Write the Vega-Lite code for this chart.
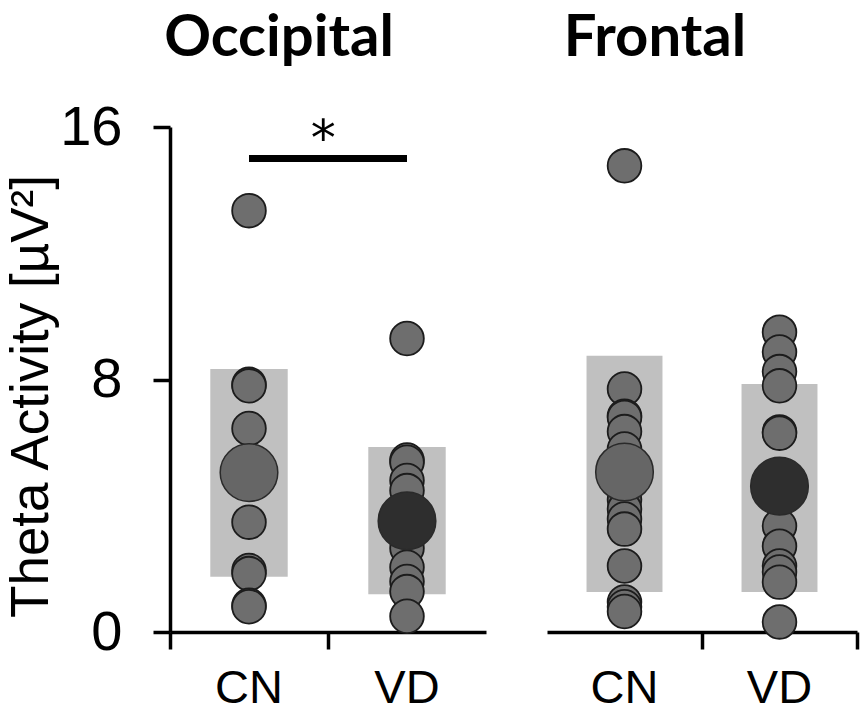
{
  "$schema": "https://vega.github.io/schema/vega-lite/v6.json",
  "background": "white",
  "padding": {"left": 5, "top": 10, "right": 5, "bottom": 5},
  "datasets": {
    "points": [
      {"region": "Occipital", "group": "CN", "value": 13.35},
      {"region": "Occipital", "group": "CN", "value": 7.85},
      {"region": "Occipital", "group": "CN", "value": 7.8},
      {"region": "Occipital", "group": "CN", "value": 6.45},
      {"region": "Occipital", "group": "CN", "value": 5.0},
      {"region": "Occipital", "group": "CN", "value": 3.48},
      {"region": "Occipital", "group": "CN", "value": 1.95},
      {"region": "Occipital", "group": "CN", "value": 1.85},
      {"region": "Occipital", "group": "CN", "value": 0.85},
      {"region": "Occipital", "group": "CN", "value": 0.8},
      {"region": "Occipital", "group": "VD", "value": 9.3},
      {"region": "Occipital", "group": "VD", "value": 5.45},
      {"region": "Occipital", "group": "VD", "value": 5.38},
      {"region": "Occipital", "group": "VD", "value": 4.8},
      {"region": "Occipital", "group": "VD", "value": 4.48},
      {"region": "Occipital", "group": "VD", "value": 3.6},
      {"region": "Occipital", "group": "VD", "value": 2.65},
      {"region": "Occipital", "group": "VD", "value": 2.05},
      {"region": "Occipital", "group": "VD", "value": 1.6},
      {"region": "Occipital", "group": "VD", "value": 1.28},
      {"region": "Occipital", "group": "VD", "value": 0.5},
      {"region": "Frontal", "group": "CN", "value": 14.77},
      {"region": "Frontal", "group": "CN", "value": 7.7},
      {"region": "Frontal", "group": "CN", "value": 6.84},
      {"region": "Frontal", "group": "CN", "value": 6.8},
      {"region": "Frontal", "group": "CN", "value": 6.35},
      {"region": "Frontal", "group": "CN", "value": 5.8},
      {"region": "Frontal", "group": "CN", "value": 4.2},
      {"region": "Frontal", "group": "CN", "value": 3.9},
      {"region": "Frontal", "group": "CN", "value": 3.58},
      {"region": "Frontal", "group": "CN", "value": 3.26},
      {"region": "Frontal", "group": "CN", "value": 2.09},
      {"region": "Frontal", "group": "CN", "value": 0.95},
      {"region": "Frontal", "group": "CN", "value": 0.8},
      {"region": "Frontal", "group": "CN", "value": 0.65},
      {"region": "Frontal", "group": "VD", "value": 9.5},
      {"region": "Frontal", "group": "VD", "value": 8.87},
      {"region": "Frontal", "group": "VD", "value": 8.25},
      {"region": "Frontal", "group": "VD", "value": 7.8},
      {"region": "Frontal", "group": "VD", "value": 6.34},
      {"region": "Frontal", "group": "VD", "value": 6.3},
      {"region": "Frontal", "group": "VD", "value": 3.36},
      {"region": "Frontal", "group": "VD", "value": 2.72},
      {"region": "Frontal", "group": "VD", "value": 2.09},
      {"region": "Frontal", "group": "VD", "value": 1.9},
      {"region": "Frontal", "group": "VD", "value": 1.58},
      {"region": "Frontal", "group": "VD", "value": 0.32}
    ],
    "summary": [
      {"region": "Occipital", "group": "CN", "mean": 5.05, "lo": 1.75, "hi": 8.33},
      {"region": "Occipital", "group": "VD", "mean": 3.52, "lo": 1.2, "hi": 5.86},
      {"region": "Frontal", "group": "CN", "mean": 5.07, "lo": 1.27, "hi": 8.75},
      {"region": "Frontal", "group": "VD", "mean": 4.62, "lo": 1.27, "hi": 7.86}
    ],
    "significance": [
      {"region": "Occipital", "from": "CN", "to": "VD", "y": 15.0, "label": "*"}
    ]
  },
  "spacing": 61,
  "config": {
    "view": {"stroke": null},
    "font": "Liberation Sans",
    "title": {"font": "Lato", "fontSize": 58, "fontWeight": "bold", "color": "black", "frame": "group"},
    "axis": {
      "grid": false,
      "domainColor": "black",
      "domainWidth": 3.5,
      "tickColor": "black",
      "tickWidth": 3.5,
      "tickSize": 17,
      "labelColor": "black",
      "labelFont": "Liberation Sans",
      "titleColor": "black",
      "titleFont": "Liberation Sans",
      "titleFontWeight": "normal"
    }
  },
  "hconcat": [
    {
      "width": 316,
      "height": 505,
      "title": {"text": "Occipital", "dx": -49, "offset": 31},
      "layer": [
        {
          "data": {"name": "summary"},
          "transform": [{"filter": "datum.region === 'Occipital'"}],
          "mark": {"type": "bar", "color": "#c0c0c0", "width": {"band": 0.49}},
          "encoding": {
            "x": {"field": "group", "type": "nominal", "sort": ["CN", "VD"],
                  "scale": {"paddingInner": 0, "paddingOuter": 0},
                  "axis": {"title": null, "labelAngle": 0, "labelFontSize": 47, "labelPadding": 16, "bandPosition": 0}},
            "y": {"field": "lo", "type": "quantitative",
                  "scale": {"domain": [0, 16], "nice": false},
                  "axis": {"values": [0, 8, 16], "labelFontSize": 56, "labelPadding": 31,
                           "title": "Theta Activity [µV²]", "titleFontSize": 53, "titlePadding": 1, "titleY": 269}},
            "y2": {"field": "hi"}
          }
        },
        {
          "data": {"name": "points"},
          "transform": [{"filter": "datum.region === 'Occipital'"}],
          "mark": {"type": "circle", "size": 1134, "fill": "#6e6e6e", "fillOpacity": 1, "stroke": "#1c1c1c", "strokeWidth": 1.8},
          "encoding": {
            "x": {"field": "group", "type": "nominal", "sort": ["CN", "VD"]},
            "y": {"field": "value", "type": "quantitative"}
          }
        },
        {
          "data": {"name": "summary"},
          "transform": [{"filter": "datum.region === 'Occipital'"}],
          "mark": {"type": "circle", "size": 3320, "fillOpacity": 1, "stroke": "#2a2a2a", "strokeWidth": 1.5},
          "encoding": {
            "x": {"field": "group", "type": "nominal", "sort": ["CN", "VD"]},
            "y": {"field": "mean", "type": "quantitative"},
            "fill": {"field": "group", "type": "nominal",
                     "scale": {"domain": ["CN", "VD"], "range": ["#666666", "#2e2e2e"]}, "legend": null}
          }
        },
        {
          "data": {"name": "significance"},
          "mark": {"type": "rule", "color": "black", "strokeWidth": 7},
          "encoding": {
            "x": {"field": "from", "type": "nominal", "sort": ["CN", "VD"]},
            "x2": {"field": "to"},
            "y": {"field": "y", "type": "quantitative"}
          }
        },
        {
          "data": {"name": "significance"},
          "mark": {"type": "text", "font": "DejaVu Sans", "fontSize": 50, "baseline": "alphabetic", "align": "center", "dy": -4},
          "encoding": {
            "x": {"field": "from", "type": "nominal", "sort": ["CN", "VD"], "bandPosition": 0.97},
            "y": {"field": "y", "type": "quantitative"},
            "text": {"field": "label"}
          }
        }
      ]
    },
    {
      "width": 310,
      "height": 505,
      "title": {"text": "Frontal", "dx": -47, "offset": 59},
      "layer": [
        {
          "data": {"name": "summary"},
          "transform": [{"filter": "datum.region === 'Frontal'"}],
          "mark": {"type": "bar", "color": "#c0c0c0", "width": {"band": 0.49}},
          "encoding": {
            "x": {"field": "group", "type": "nominal", "sort": ["CN", "VD"],
                  "scale": {"paddingInner": 0, "paddingOuter": 0},
                  "axis": {"title": null, "labelAngle": 0, "labelFontSize": 47, "labelPadding": 16, "bandPosition": 1}},
            "y": {"field": "lo", "type": "quantitative",
                  "scale": {"domain": [0, 16], "nice": false}, "axis": null},
            "y2": {"field": "hi"}
          }
        },
        {
          "data": {"name": "points"},
          "transform": [{"filter": "datum.region === 'Frontal'"}],
          "mark": {"type": "circle", "size": 1134, "fill": "#6e6e6e", "fillOpacity": 1, "stroke": "#1c1c1c", "strokeWidth": 1.8},
          "encoding": {
            "x": {"field": "group", "type": "nominal", "sort": ["CN", "VD"]},
            "y": {"field": "value", "type": "quantitative"}
          }
        },
        {
          "data": {"name": "summary"},
          "transform": [{"filter": "datum.region === 'Frontal'"}],
          "mark": {"type": "circle", "size": 3320, "fillOpacity": 1, "stroke": "#2a2a2a", "strokeWidth": 1.5},
          "encoding": {
            "x": {"field": "group", "type": "nominal", "sort": ["CN", "VD"]},
            "y": {"field": "mean", "type": "quantitative"},
            "fill": {"field": "group", "type": "nominal",
                     "scale": {"domain": ["CN", "VD"], "range": ["#666666", "#2e2e2e"]}, "legend": null}
          }
        }
      ]
    }
  ]
}
